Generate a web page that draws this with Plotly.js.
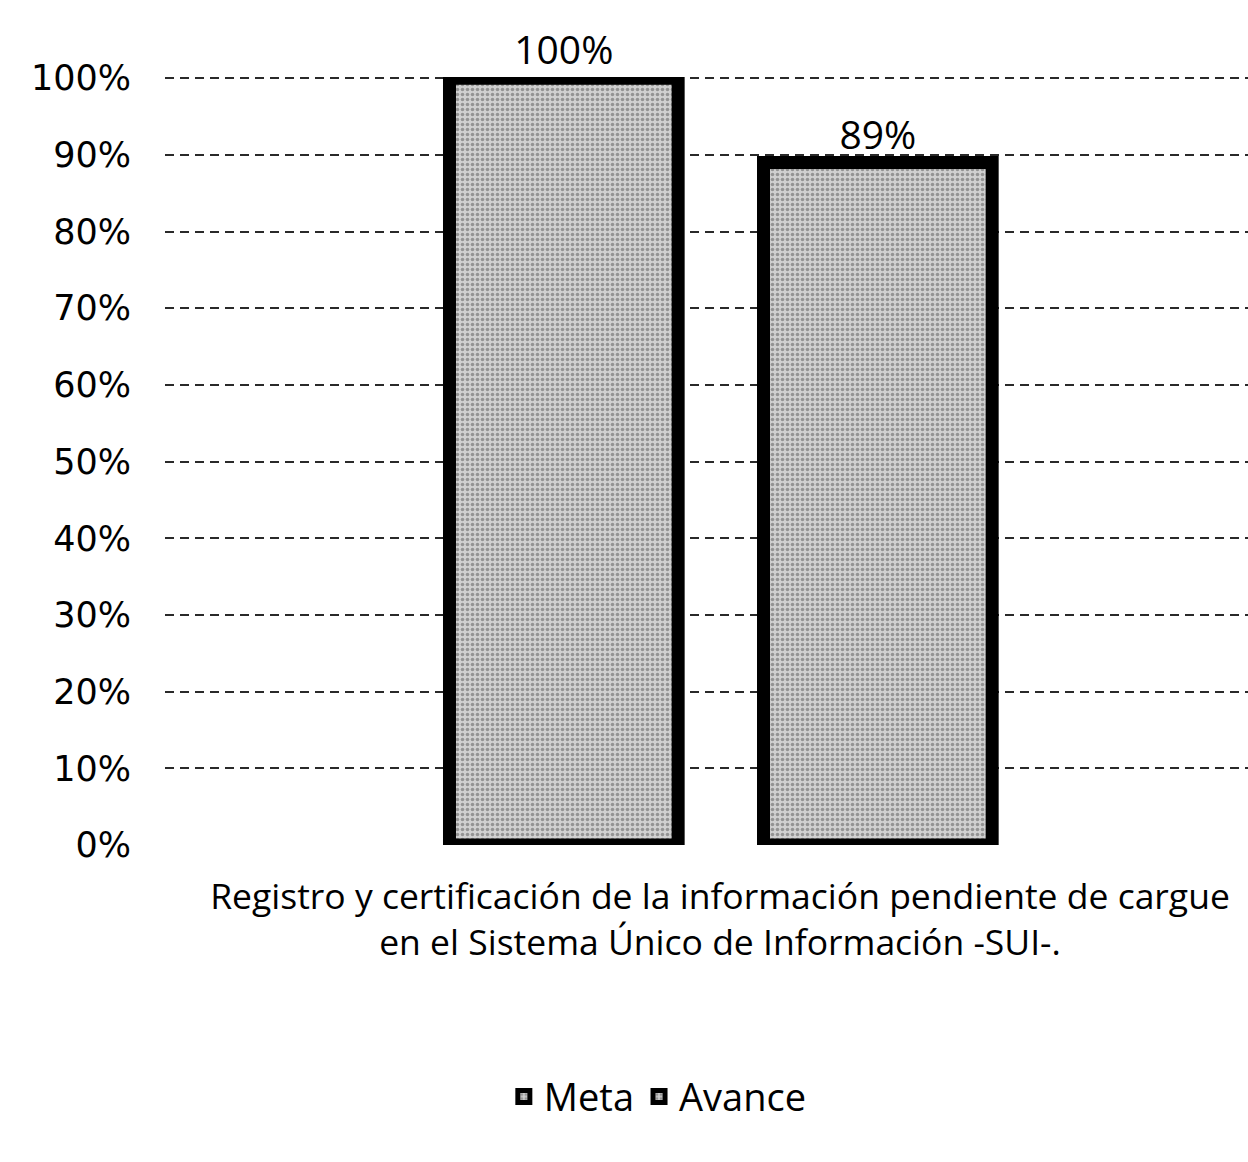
<!DOCTYPE html>
<html>
<head>
<meta charset="utf-8">
<script src="https://cdn.plot.ly/plotly-3.0.1.min.js"></script>
<style>
html,body{margin:0;padding:0;overflow:hidden;background:#fff;}
#chart{width:1290px;height:1162px;}
</style>
</head>
<body>
<div id="chart"></div>
<script>
const categories = ["Registro y certificación de la información pendiente de cargue<br>en el Sistema Único de Información -SUI-."];
const seriesNames = ["Meta", "Avance"];
const metaValues = [1.00];
const avanceValues = [0.89];
const yTickValues = [0, 0.1, 0.2, 0.3, 0.4, 0.5, 0.6, 0.7, 0.8, 0.9, 1.0];
const yTickLabels = ["0%", "10%", "20%", "30%", "40%", "50%", "60%", "70%", "80%", "90%", "100%"];

const labelFont = {family: "Open Sans, sans-serif", size: 39, color: "#000"};

function barTrace(name, values, offset) {
  return {
    type: "bar",
    name: name,
    x: categories,
    y: values,
    offset: offset,
    width: 0.206,
    marker: {
      color: "#b8b8b8",
      pattern: {shape: ".", fgcolor: "#555", bgcolor: "#d0d0d0", size: 5, solidity: 0.4, fillmode: "overlay"},
      line: {color: "#000", width: 13}
    },
    texttemplate: "%{y:.0%}",
    textposition: "outside",
    textfont: labelFont,
    cliponaxis: false
  };
}

const data = [
  barTrace(seriesNames[0], metaValues, -0.2437),
  barTrace(seriesNames[1], avanceValues, 0.0392)
];

const layout = {
  width: 1290,
  height: 1162,
  margin: {l: 165, r: 15, t: 77, b: 317},
  paper_bgcolor: "#fff",
  plot_bgcolor: "#fff",
  showlegend: true,
  legend: {
    orientation: "h",
    x: 0.444, xanchor: "center",
    y: -0.328, yanchor: "middle",
    font: {family: "Open Sans, sans-serif", size: 38, color: "#000"},
    traceorder: "normal"
  },
  xaxis: {
    type: "category",
    range: [-0.5, 0.5],
    showgrid: false,
    showline: false,
    ticks: "",
    tickfont: {family: "Open Sans, sans-serif", size: 35.5, color: "#000"},
    ticklabelstandoff: 27
  },
  yaxis: {
    range: [0, 1.0015],
    tickvals: yTickValues,
    ticktext: yTickLabels,
    tickfont: {family: "DejaVu Sans, sans-serif", size: 35, color: "#000"},
    ticks: "",
    ticklabelstandoff: 33,
    showline: false,
    showgrid: true,
    gridcolor: "#2a2a2a",
    gridwidth: 1.6,
    griddash: "9px,6px",
    zeroline: false
  },
  bargap: 0.5
};

Plotly.newPlot("chart", data, layout, {displayModeBar: false, responsive: false});
</script>
</body>
</html>
